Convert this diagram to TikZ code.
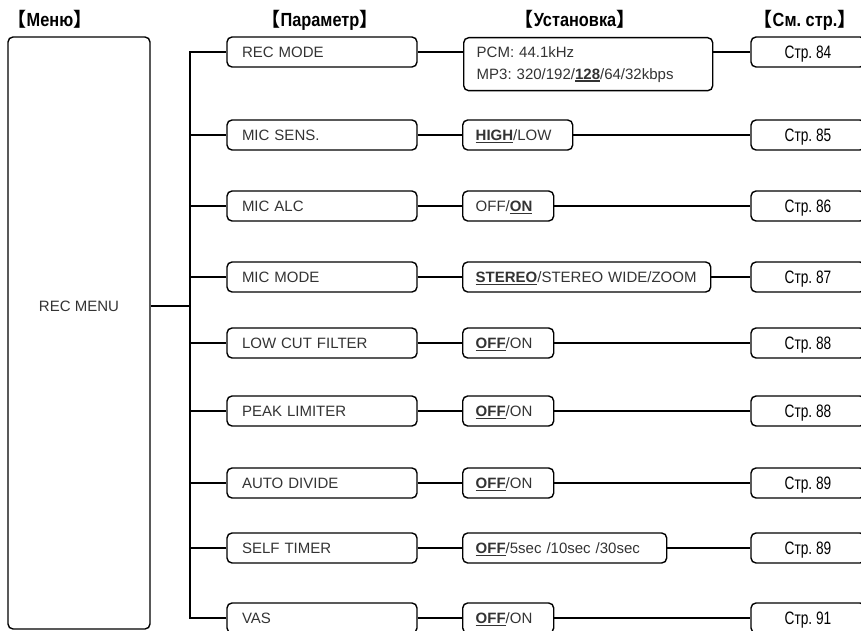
\documentclass[tikz,border=0pt]{standalone}
\usepackage{fontspec}
\setmainfont{Liberation Sans}
\newfontfamily\pagefont[FakeStretch=0.76]{Liberation Sans}
\newfontfamily\headfont[FakeStretch=0.86]{Liberation Sans}
\newfontfamily\cjkfont{Noto Sans CJK SC Bold}
\newcommand\hdr[1]{{\cjkfont 【}#1{\cjkfont 】}}
\newcommand\chosen[1]{\setbox0\hbox{\bfseries #1}\rlap{\rule[-2.6pt]{\wd0}{1.3pt}}\box0}
\frenchspacing

\begin{document}
\begin{tikzpicture}[x=1pt, y=-1pt, line width=1.4pt, font=\fontsize{15}{22}\selectfont,
	box/.style={draw, rounded corners=5pt, minimum height=30pt, inner ysep=0pt},
	param/.style={box, text=black!80, text width=160pt, inner xsep=15pt, align=left, text height=10.7pt, text depth=0pt},
	setting/.style={box, anchor=west, text=black!80, inner xsep=13pt, align=left, text height=10.7pt, text depth=0pt},
	page/.style={box, minimum width=114pt, font=\pagefont\fontsize{18}{20}\selectfont, text height=12.9pt, text depth=0pt},
	head/.style={anchor=base, font=\headfont\bfseries\fontsize{19}{22}\selectfont}]
	\useasboundingbox (0,0) rectangle (861,631);
	\clip (0,0) rectangle (861,631);

	% column titles
	\node[head] (hmenu) at (50,27) {\hdr{Меню}};
	\node[head] (hparam) at (320,27) {\hdr{Параметр}};
	\node[head] (hset) at (575,27) {\hdr{Установка}};
	\node[head] (hpage) at (805,27) {\hdr{См. стр.}};

	% menu
	\node[box, minimum width=142pt, minimum height=592pt] (menu) at (79,333) {};
	\node[text=black!80, text height=10.7pt, text depth=0pt] (menulbl) at (79,306) {REC MENU};
	\coordinate (bus) at (190,0);

	% parameters
	\node[param] (p1) at (322,52) {REC MODE};
	\node[param] (p2) at (322,135) {MIC SENS.};
	\node[param] (p3) at (322,206) {MIC ALC};
	\node[param] (p4) at (322,277) {MIC MODE};
	\node[param] (p5) at (322,343) {LOW CUT FILTER};
	\node[param] (p6) at (322,411) {PEAK LIMITER};
	\node[param] (p7) at (322,483) {AUTO DIVIDE};
	\node[param] (p8) at (322,548) {SELF TIMER};
	\node[param] (p9) at (322,618) {VAS};

	% settings
	\node[box, anchor=north west, minimum height=53pt, text width=223pt, inner xsep=13pt, align=left, text=black!80] (s1) at (463,37)
		{PCM: 44.1kHz\\MP3: 320/192/\chosen{128}/64/32kbps};
	\node[setting, text width=84pt] (s2) at (462,135) {\chosen{HIGH}/LOW};
	\node[setting, text width=65pt] (s3) at (462,206) {OFF/\chosen{ON}};
	\node[setting, text width=222pt] (s4) at (462,277) {\chosen{STEREO}/STEREO WIDE/ZOOM};
	\node[setting, text width=65pt] (s5) at (462,343) {\chosen{OFF}/ON};
	\node[setting, text width=65pt] (s6) at (462,411) {\chosen{OFF}/ON};
	\node[setting, text width=65pt] (s7) at (462,483) {\chosen{OFF}/ON};
	\node[setting, text width=178pt] (s8) at (462,548) {\chosen{OFF}/5sec /10sec /30sec};
	\node[setting, text width=65pt] (s9) at (462,618) {\chosen{OFF}/ON};

	% pages
	\node[page] (g1) at (808,52) {Стр. 84};
	\node[page] (g2) at (808,135) {Стр. 85};
	\node[page] (g3) at (808,206) {Стр. 86};
	\node[page] (g4) at (808,277) {Стр. 87};
	\node[page] (g5) at (808,343) {Стр. 88};
	\node[page] (g6) at (808,411) {Стр. 88};
	\node[page] (g7) at (808,483) {Стр. 89};
	\node[page] (g8) at (808,548) {Стр. 89};
	\node[page] (g9) at (808,618) {Стр. 91};

	% tree
	\draw (menu.east |- menulbl) -- (bus |- menulbl);
	\draw (p1.west) -- (bus |- p1) -- (bus |- p9) -- (p9.west);
	\draw (bus |- p2) -- (p2.west);
	\draw (bus |- p3) -- (p3.west);
	\draw (bus |- p4) -- (p4.west);
	\draw (bus |- p5) -- (p5.west);
	\draw (bus |- p6) -- (p6.west);
	\draw (bus |- p7) -- (p7.west);
	\draw (bus |- p8) -- (p8.west);

	% rows
	\draw (p1.east) -- (s1.west |- p1);
	\draw (s1.east |- g1) -- (g1.west);
	\draw (p2.east) -- (s2.west);  \draw (s2.east) -- (g2.west);
	\draw (p3.east) -- (s3.west);  \draw (s3.east) -- (g3.west);
	\draw (p4.east) -- (s4.west);  \draw (s4.east) -- (g4.west);
	\draw (p5.east) -- (s5.west);  \draw (s5.east) -- (g5.west);
	\draw (p6.east) -- (s6.west);  \draw (s6.east) -- (g6.west);
	\draw (p7.east) -- (s7.west);  \draw (s7.east) -- (g7.west);
	\draw (p8.east) -- (s8.west);  \draw (s8.east) -- (g8.west);
	\draw (p9.east) -- (s9.west);  \draw (s9.east) -- (g9.west);
\end{tikzpicture}
\end{document}
